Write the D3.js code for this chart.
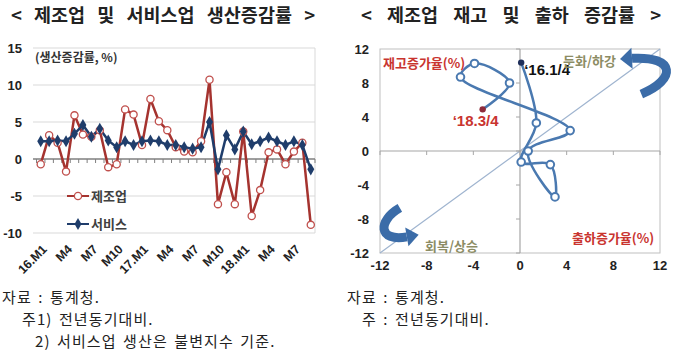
<!DOCTYPE html>
<html><head><meta charset="utf-8">
<script src="https://cdn.jsdelivr.net/npm/d3@7"></script>
<style>
html,body{margin:0;padding:0;background:#fff;}
svg{display:block;}
</style></head>
<body>
<svg id="c" width="680" height="360"></svg>
<script>
// ---------- data ----------
const months = ["16.M1","16.M2","16.M3","16.M4","16.M5","16.M6","16.M7","16.M8","16.M9","16.M10","16.M11","16.M12",
  "17.M1","17.M2","17.M3","17.M4","17.M5","17.M6","17.M7","17.M8","17.M9","17.M10","17.M11","17.M12",
  "18.M1","18.M2","18.M3","18.M4","18.M5","18.M6","18.M7","18.M8","18.M9"];
const manufacturing = [-0.7,3.2,2.2,-1.7,5.9,3.3,3.0,3.9,-1.1,-0.7,6.7,6.0,
  1.9,8.1,5.1,3.9,1.6,1.0,0.9,2.4,10.7,-6.1,-1.8,-6.1,
  3.7,-7.7,-4.2,0.9,1.3,-0.7,1.0,2.2,-8.9];
const services = [2.4,2.4,2.5,2.4,3.4,4.6,3.0,4.1,2.5,1.6,2.4,1.9,
  2.4,2.5,2.4,1.9,1.9,1.6,1.4,1.6,5.0,-1.4,3.2,1.3,
  3.7,2.0,2.4,2.9,2.4,1.9,2.4,1.9,-1.4];
const monthTickKeys = ["16.M1","16.M4","16.M7","16.M10","17.M1","17.M4","17.M7","17.M10","18.M1","18.M4","18.M7"];
const monthTickLabels = ["16.M1","M4","M7","M10","17.M1","M4","M7","M10","18.M1","M4","M7"];
const leftYTicks = [-10,-5,0,5,10,15];

const quarters = ["16.1/4","16.2/4","16.3/4","16.4/4","17.1/4","17.2/4","17.3/4","17.4/4","18.1/4","18.2/4","18.3/4"];
const shipmentGrowth = [0.1,1.4,0.1,2.6,3.0,0.7,4.3,-5.1,-3.9,-0.9,-3.2];
const inventoryGrowth = [10.4,3.3,-1.3,-1.6,-5.4,0.0,2.4,8.7,10.3,8.0,4.9];
const rightTicks = [-12,-8,-4,0,4,8,12];

// ---------- setup ----------
const svg = d3.select("#c");
const KR = "'Noto Sans CJK KR', 'Noto Sans', sans-serif";
const NUM = "'Liberation Sans', Arial, sans-serif";

// titles
svg.append("text").attr("x",163).attr("y",22).attr("text-anchor","middle")
  .attr("font-family",KR).attr("font-weight","bold").attr("font-size",18.5).attr("word-spacing",8).attr("fill","#222")
  .text("< 제조업 및 서비스업 생산증감률 >");
svg.append("text").attr("x",511).attr("y",22).attr("text-anchor","middle")
  .attr("font-family",KR).attr("font-weight","bold").attr("font-size",18.5).attr("word-spacing",11).attr("fill","#222")
  .text("< 제조업 재고 및 출하 증감률 >");

// ---------- left chart ----------
const xL = d3.scaleBand().domain(months).range([36.5,315]).padding(0);
const yL = d3.scaleLinear().domain([-10,15]).range([233,48]);
const cx = m => xL(m) + xL.bandwidth()/2;
const gL = svg.append("g");

gL.selectAll("line.grid").data(leftYTicks.filter(d=>d!==0)).join("line")
  .attr("x1",33).attr("x2",315).attr("y1",d=>yL(d)).attr("y2",d=>yL(d))
  .attr("stroke","#d9d9d9").attr("stroke-width",1);
gL.append("line").attr("x1",315).attr("x2",315).attr("y1",yL(15)).attr("y2",yL(-10)).attr("stroke","#d9d9d9");

gL.selectAll("text.yl").data(leftYTicks).join("text")
  .attr("x",22).attr("y",d=>yL(d)+4.5).attr("text-anchor","end")
  .attr("font-family",NUM).attr("font-weight","bold").attr("font-size",13).attr("fill","#222")
  .text(d=>d);

// zero axis with ticks
gL.append("line").attr("x1",33).attr("x2",315).attr("y1",yL(0)).attr("y2",yL(0)).attr("stroke","#7f7f7f").attr("stroke-width",1.5);
const bounds = months.map(m=>xL(m)).concat([xL(months[months.length-1])+xL.bandwidth()]);
gL.selectAll("line.tk").data(bounds).join("line")
  .attr("x1",d=>d).attr("x2",d=>d).attr("y1",yL(0)).attr("y2",yL(0)+4)
  .attr("stroke","#7f7f7f").attr("stroke-width",1);

// x labels
gL.selectAll("text.xl").data(monthTickKeys).join("text")
  .attr("transform",d=>`translate(${cx(d)+7},250) rotate(-45)`)
  .attr("text-anchor","end")
  .attr("font-family",NUM).attr("font-weight","bold").attr("font-size",12.5).attr("fill","#222")
  .text((d,i)=>monthTickLabels[i]);

// axis title
gL.append("text").attr("x",35).attr("y",62).attr("font-family",KR).attr("font-weight","bold")
  .attr("font-size",12).attr("fill","#333").text("(생산증감률, %)");

const redLine = "#a5332f", redMark = "#c0504d", navy = "#1f3d6b";
const lineGen = d3.line().x((d,i)=>cx(months[i])).y(d=>yL(d));
gL.append("path").attr("d",lineGen(manufacturing)).attr("fill","none").attr("stroke",redLine).attr("stroke-width",2.5);
gL.append("path").attr("d",lineGen(services)).attr("fill","none").attr("stroke",navy).attr("stroke-width",2.5);
gL.selectAll("circle.m").data(manufacturing).join("circle")
  .attr("cx",(d,i)=>cx(months[i])).attr("cy",d=>yL(d)).attr("r",3.6)
  .attr("fill","#fff").attr("stroke",redMark).attr("stroke-width",1.3);
const diamond = d3.symbol().type(d3.symbolDiamond).size(42);
gL.selectAll("path.s").data(services).join("path")
  .attr("transform",(d,i)=>`translate(${cx(months[i])},${yL(d)})`).attr("d",diamond).attr("fill",navy);

// legend
const lg = gL.append("g");
lg.append("line").attr("x1",67).attr("x2",89).attr("y1",196).attr("y2",196).attr("stroke",redLine).attr("stroke-width",2);
lg.append("circle").attr("cx",78).attr("cy",196).attr("r",3.6).attr("fill","#fff").attr("stroke",redMark).attr("stroke-width",1.3);
lg.append("text").attr("x",91).attr("y",201).attr("font-family",KR).attr("font-weight","bold").attr("font-size",13).attr("fill","#404040").text("제조업");
lg.append("line").attr("x1",67).attr("x2",89).attr("y1",224).attr("y2",224).attr("stroke",navy).attr("stroke-width",2);
lg.append("path").attr("transform","translate(78,224)").attr("d",diamond).attr("fill",navy);
lg.append("text").attr("x",91).attr("y",229).attr("font-family",KR).attr("font-weight","bold").attr("font-size",13).attr("fill","#404040").text("서비스");

// ---------- right chart ----------
const xR = d3.scaleLinear().domain([-12,12]).range([380,660]);
const yR = d3.scaleLinear().domain([-12,12]).range([253,49]);
const gR = svg.append("g");
gR.append("rect").attr("x",xR(-12)).attr("y",yR(12)).attr("width",xR(12)-xR(-12)).attr("height",yR(-12)-yR(12))
  .attr("fill","none").attr("stroke","#bfbfbf").attr("stroke-width",1);
// diagonal
gR.append("line").attr("x1",xR(-12)).attr("y1",yR(-12)).attr("x2",xR(12)).attr("y2",yR(12))
  .attr("stroke","#9fb4cf").attr("stroke-width",1.2);
// zero axes
gR.append("line").attr("x1",xR(-12)).attr("x2",xR(12)).attr("y1",yR(0)).attr("y2",yR(0)).attr("stroke","#a6a6a6").attr("stroke-width",1.2);
gR.append("line").attr("x1",xR(0)).attr("x2",xR(0)).attr("y1",yR(-12)).attr("y2",yR(12)).attr("stroke","#a6a6a6").attr("stroke-width",1.2);
gR.selectAll("line.tx").data(rightTicks).join("line")
  .attr("x1",d=>xR(d)).attr("x2",d=>xR(d)).attr("y1",yR(0)).attr("y2",yR(0)+4).attr("stroke","#a6a6a6");
gR.selectAll("line.ty").data(rightTicks).join("line")
  .attr("x1",xR(0)-4).attr("x2",xR(0)).attr("y1",d=>yR(d)).attr("y2",d=>yR(d)).attr("stroke","#a6a6a6");
// tick labels
gR.selectAll("text.ry").data(rightTicks).join("text")
  .attr("x",369).attr("y",d=>yR(d)+4.5).attr("text-anchor","end")
  .attr("font-family",NUM).attr("font-weight","bold").attr("font-size",13).attr("fill","#222").text(d=>d);
gR.selectAll("text.rx").data(rightTicks).join("text")
  .attr("x",d=>xR(d)).attr("y",270).attr("text-anchor","middle")
  .attr("font-family",NUM).attr("font-weight","bold").attr("font-size",13).attr("fill","#222").text(d=>d);

// arrows (annotation)
const arrowCol = "#3b6ca8";
function arrow(p0,c1,c2,p1,headLen,headW){
  const path = d3.path();
  path.moveTo(xR(p0[0]),yR(p0[1]));
  path.bezierCurveTo(xR(c1[0]),yR(c1[1]),xR(c2[0]),yR(c2[1]),xR(p1[0]),yR(p1[1]));
  gR.append("path").attr("d",path.toString()).attr("fill","none").attr("stroke",arrowCol).attr("stroke-width",9);
  const ex=xR(p1[0]), ey=yR(p1[1]);
  let dx=ex-xR(c2[0]), dy=ey-yR(c2[1]); const L=Math.hypot(dx,dy); dx/=L; dy/=L;
  const px=-dy, py=dx;
  const pts=[[ex+dx*headLen,ey+dy*headLen],[ex+px*headW,ey+py*headW],[ex-px*headW,ey-py*headW]];
  gR.append("polygon").attr("points",pts.map(p=>p.join(",")).join(" ")).attr("fill",arrowCol);
}
arrow([10.4,6.7],[13.4,8.4],[13.4,11.2],[9.6,10.9],12,10.5);
arrow([-10.3,-6.7],[-12.2,-8.2],[-12.2,-10.7],[-9.7,-10.1],12,9.5);

// loop line
const loopCol = "#4a79b0";
const pts = shipmentGrowth.map((s,i)=>[s,inventoryGrowth[i]]);
const loop = d3.line().x(d=>xR(d[0])).y(d=>yR(d[1])).curve(d3.curveCatmullRom.alpha(0.5));
gR.append("path").attr("d",loop(pts)).attr("fill","none").attr("stroke",loopCol).attr("stroke-width",2.5);
gR.selectAll("circle.q").data(pts.slice(1,-1)).join("circle")
  .attr("cx",d=>xR(d[0])).attr("cy",d=>yR(d[1])).attr("r",3.8)
  .attr("fill","#fff").attr("stroke",loopCol).attr("stroke-width",2);
const first = pts[0], last = pts[pts.length-1];
gR.append("circle").attr("cx",xR(first[0])).attr("cy",yR(first[1])).attr("r",3.2).attr("fill","#1f2f5a");
gR.append("circle").attr("cx",xR(last[0])).attr("cy",yR(last[1])).attr("r",3.2).attr("fill","#8e2a3a");

// labels
const red = "#c9342f", olive = "#8c8c64";
gR.append("text").attr("x",383).attr("y",68).attr("font-family",KR).attr("font-weight","bold").attr("font-size",13).attr("fill",red).text("재고증가율(%)");
gR.append("text").attr("x",xR(last[0])-30).attr("y",yR(last[1])+17).attr("font-family",NUM).attr("font-weight","bold").attr("font-size",15).attr("fill",red).text("‘18.3/4");
gR.append("text").attr("x",xR(first[0])+3).attr("y",yR(first[1])+12).attr("font-family",NUM).attr("font-weight","bold").attr("font-size",15).attr("fill","#111").text("‘16.1/4");
gR.append("text").attr("x",563).attr("y",66).attr("font-family",KR).attr("font-weight","bold").attr("font-size",13).attr("fill",olive).text("둔화/하강");
gR.append("text").attr("x",425).attr("y",251).attr("font-family",KR).attr("font-weight","bold").attr("font-size",13).attr("fill",olive).text("회복/상승");
gR.append("text").attr("x",572).attr("y",243).attr("font-family",KR).attr("font-weight","bold").attr("font-size",13).attr("fill",red).text("출하증가율(%)");

// ---------- notes ----------
const noteStyle = s => s.attr("font-family",KR).attr("font-size",15).attr("fill","#222")
  .attr("letter-spacing",1.1).attr("word-spacing",2);
noteStyle(svg.append("text").attr("x",2).attr("y",303)).text("자료 : 통계청.");
noteStyle(svg.append("text").attr("x",22).attr("y",325)).text("주1) 전년동기대비.");
noteStyle(svg.append("text").attr("x",35).attr("y",347)).text("2) 서비스업 생산은 불변지수 기준.");
noteStyle(svg.append("text").attr("x",347).attr("y",303)).text("자료 : 통계청.");
noteStyle(svg.append("text").attr("x",362).attr("y",325)).text("주 : 전년동기대비.");
</script>
</body></html>
